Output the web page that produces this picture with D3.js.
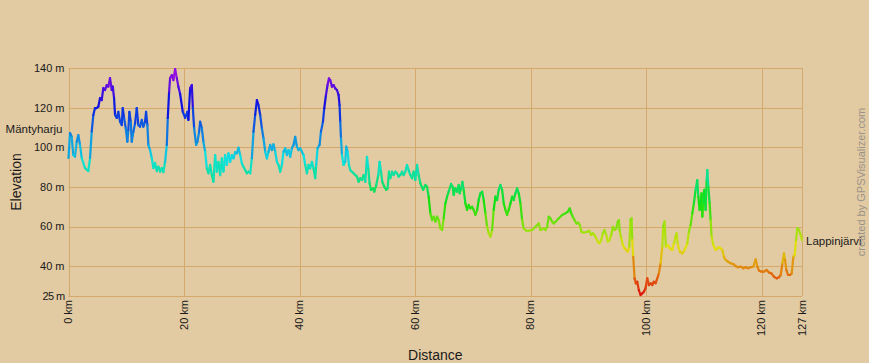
<!DOCTYPE html>
<html>
<head>
<meta charset="utf-8">
<script src="https://cdn.jsdelivr.net/npm/d3@7"></script>
<style>
  body { margin: 0; background: #e2caa2; }
  svg { display: block; font-family: "Liberation Sans", Arial, sans-serif; }
</style>
</head>
<body>
<div class="chart"></div>
<script>
var width = 869;
var height = 363;
var margin = { top: 68, right: 67, bottom: 67, left: 68.5 };

// profile: distance (km) and elevation (m)
var distKm = [
  0.0, 0.26, 0.55, 0.83, 1.13, 1.42, 1.70, 1.99, 2.29, 2.86, 3.43, 3.73, 4.02, 4.30, 4.59, 4.89, 5.16, 5.46, 5.75, 6.03,
  6.33, 6.62, 6.90, 7.19, 7.49, 7.66, 7.89, 8.06, 8.35, 8.63, 8.93, 9.22, 9.39, 9.62, 9.91, 10.19, 10.36, 10.54, 10.78, 10.95,
  11.23, 11.53, 11.82, 12.10, 12.39, 12.69, 12.96, 13.26, 13.43, 13.66, 13.83, 14.12, 14.42, 14.70, 14.99, 15.29, 15.56, 15.86, 16.15, 16.43,
  16.72, 17.02, 17.19, 17.42, 17.59, 17.89, 18.16, 18.46, 18.75, 19.03, 19.32, 19.79, 20.19, 20.59, 20.76, 21.06, 21.35, 21.53, 21.75, 22.10,
  22.32, 22.62, 22.79, 23.08, 23.36, 23.66, 23.95, 24.23, 24.52, 24.82, 25.10, 25.39, 25.68, 25.96, 26.26, 26.55, 26.83, 27.12, 27.42, 27.69,
  27.99, 28.28, 28.56, 28.86, 29.15, 29.43, 29.72, 30.02, 30.29, 30.59, 30.88, 31.16, 31.46, 31.75, 32.03, 32.32, 32.62, 32.89, 33.19, 33.48,
  33.76, 34.06, 34.35, 34.63, 34.92, 35.22, 35.49, 35.79, 36.08, 36.36, 36.66, 36.95, 37.23, 37.52, 37.82, 38.09, 38.39, 38.68, 38.96, 39.25,
  39.55, 39.83, 40.12, 40.69, 40.99, 41.28, 41.56, 41.85, 42.15, 42.43, 42.72, 42.89, 43.12, 43.47, 43.71, 44.06, 44.28, 44.58, 44.85, 45.10,
  45.32, 45.62, 45.89, 46.19, 46.48, 46.76, 46.93, 47.05, 47.18, 47.35, 47.63, 47.92, 48.09, 48.32, 48.56, 48.79, 49.08, 49.36, 49.65, 49.95,
  50.23, 50.52, 50.81, 51.09, 51.39, 51.68, 51.91, 52.13, 52.37, 52.72, 52.95, 53.29, 53.64, 53.86, 54.11, 54.33, 54.68, 55.03, 55.25, 55.49,
  55.72, 56.01, 56.29, 56.59, 56.88, 57.16, 57.45, 57.75, 58.02, 58.32, 58.61, 58.89, 59.19, 59.48, 59.76, 60.05, 60.35, 60.62, 60.92, 61.39,
  61.79, 62.08, 62.36, 62.65, 62.95, 63.22, 63.52, 63.81, 64.09, 64.38, 64.68, 64.96, 65.25, 65.55, 65.82, 66.24, 66.52, 66.69, 66.98, 67.28,
  67.56, 67.73, 67.97, 68.20, 68.42, 68.72, 69.01, 69.29, 69.58, 69.88, 70.16, 70.45, 70.75, 71.02, 71.32, 71.61, 71.89, 72.18, 72.48, 72.76,
  73.05, 73.34, 73.62, 73.92, 74.21, 74.49, 74.78, 75.08, 75.36, 75.65, 75.94, 76.22, 76.52, 76.81, 77.09, 77.38, 77.68, 77.96, 78.25, 78.54,
  78.82, 79.29, 79.69, 80.28, 80.85, 81.42, 81.72, 82.29, 82.58, 82.88, 83.15, 83.45, 83.74, 84.02, 84.32, 84.89, 85.48, 86.05, 86.45, 86.79,
  87.04, 87.31, 87.61, 87.95, 88.25, 88.53, 88.82, 89.22, 89.81, 90.16, 90.50, 90.78, 91.07, 91.37, 91.65, 91.94, 92.24, 92.51, 92.81, 93.10,
  93.38, 93.67, 93.97, 94.25, 94.54, 94.84, 95.11, 95.29, 95.46, 95.70, 95.98, 96.27, 96.57, 96.85, 97.09, 97.31, 97.49, 97.61, 97.78, 98.01,
  98.23, 98.47, 98.75, 99.05, 99.34, 99.62, 99.91, 100.21, 100.49, 100.78, 101.07, 101.35, 101.65, 101.94, 102.22, 102.51, 102.81, 102.98, 103.21, 103.43,
  103.78, 104.13, 104.54, 104.82, 105.11, 105.29, 105.51, 105.86, 106.28, 106.67, 107.14, 107.42, 107.71, 108.01, 108.28, 108.58, 108.87, 109.05, 109.27, 109.45,
  109.62, 109.74, 109.91, 110.09, 110.31, 110.49, 110.61, 110.78, 111.01, 111.18, 111.35, 111.65, 112.05, 112.34, 112.62, 112.91, 113.21, 113.48, 113.78, 114.18,
  114.64, 115.11, 115.51, 115.91, 116.38, 116.85, 117.24, 117.64, 118.11, 118.58, 118.98, 119.27, 119.55, 119.97, 120.42, 120.88, 121.28, 121.70, 122.15, 122.62,
  123.02, 123.31, 123.61, 123.88, 124.06, 124.30, 124.58, 124.92, 125.22, 125.51, 125.74, 125.96, 126.21, 126.48, 126.77, 127.0
];
var elevM = [
  94.6, 107.2, 105.3, 96.1, 95.3, 102.8, 106.2, 101.2, 94.6, 89.5, 88.0, 94.6, 107.9, 116.3, 119.8, 119.8, 120.5, 124.8, 123.8, 129.9,
  128.9, 131.4, 130.6, 134.9, 128.9, 130.6, 124.8, 116.3, 114.8, 117.9, 112.9, 111.2, 119.8, 114.8, 109.7, 102.8, 108.7, 117.9, 112.9, 102.8,
  107.9, 112.1, 119.8, 111.2, 110.4, 113.8, 110.4, 112.9, 117.9, 111.2, 101.2, 98.6, 94.6, 89.5, 92.1, 88.0, 90.2, 87.7, 89.5, 87.5,
  92.7, 101.2, 114.8, 128.0, 134.9, 136.4, 133.9, 139.5, 134.9, 130.6, 127.0, 117.9, 114.8, 117.9, 113.8, 129.9, 131.4, 119.8, 109.7, 101.2,
  102.8, 107.9, 112.9, 109.7, 102.8, 97.8, 89.4, 86.9, 91.1, 86.0, 82.6, 96.1, 87.7, 92.7, 86.0, 94.4, 87.7, 96.1, 91.1, 97.0,
  92.7, 96.1, 94.4, 97.5, 97.0, 99.8, 96.1, 91.9, 90.2, 88.5, 86.9, 87.7, 86.9, 94.4, 107.9, 116.3, 123.8, 121.3, 116.3, 109.6,
  104.5, 97.8, 94.4, 97.8, 101.2, 98.6, 101.5, 97.8, 92.7, 91.1, 87.7, 91.1, 97.8, 99.5, 96.1, 98.6, 95.2, 99.5, 101.2, 105.3,
  100.3, 98.6, 99.5, 96.1, 91.1, 86.9, 91.1, 89.4, 92.7, 89.4, 84.4, 91.1, 99.5, 101.2, 107.9, 112.9, 119.7, 126.4, 131.4, 134.8,
  133.9, 130.6, 131.4, 129.7, 128.9, 126.4, 121.3, 112.9, 104.5, 96.1, 91.1, 92.7, 100.3, 97.8, 91.1, 88.5, 87.7, 86.9, 86.0, 85.2,
  82.6, 84.4, 83.5, 86.0, 82.6, 95.2, 89.4, 81.8, 78.5, 79.3, 77.6, 81.0, 86.0, 92.7, 87.7, 82.6, 80.1, 78.5, 79.3, 87.7,
  84.4, 87.7, 86.0, 87.7, 86.9, 85.2, 86.0, 87.7, 86.0, 87.7, 91.1, 88.5, 86.0, 84.4, 87.7, 83.5, 91.1, 86.0, 81.8, 78.5,
  81.0, 80.1, 75.1, 66.7, 63.3, 65.0, 62.5, 65.0, 63.3, 59.1, 58.3, 64.2, 71.7, 75.1, 77.6, 81.5, 80.1, 76.0, 79.3, 77.6,
  81.0, 76.8, 79.3, 82.6, 78.5, 71.7, 68.4, 70.9, 69.2, 70.0, 68.4, 65.9, 68.4, 73.4, 76.8, 77.6, 73.4, 66.7, 59.9, 56.6,
  54.9, 58.3, 68.4, 75.1, 73.4, 78.5, 81.0, 78.5, 71.7, 68.4, 65.9, 68.4, 71.7, 75.1, 73.4, 76.8, 79.3, 76.8, 71.7, 63.3,
  59.1, 57.9, 57.9, 58.3, 59.9, 61.6, 58.3, 59.1, 58.3, 59.9, 65.0, 64.2, 62.5, 61.6, 62.5, 64.2, 65.9, 66.7, 67.5, 69.2,
  66.7, 65.0, 63.3, 61.6, 62.0, 60.8, 57.4, 56.9, 57.4, 57.9, 55.8, 56.6, 55.8, 54.1, 52.4, 51.6, 53.2, 56.6, 58.3, 55.8,
  52.4, 53.2, 55.8, 59.9, 58.3, 59.1, 62.5, 63.3, 57.4, 54.1, 50.7, 49.0, 48.2, 47.3, 49.9, 63.3, 64.2, 53.2, 44.8, 33.9,
  31.4, 32.2, 28.0, 25.5, 26.3, 27.2, 28.9, 33.9, 30.5, 31.4, 30.5, 32.2, 31.4, 33.9, 36.4, 41.5, 49.9, 59.9, 62.5, 49.9,
  50.7, 49.0, 48.2, 51.6, 54.9, 56.6, 50.7, 47.3, 46.5, 48.2, 51.6, 57.4, 60.8, 66.7, 71.7, 78.5, 83.5, 75.1, 68.4, 71.7,
  76.8, 65.0, 71.7, 78.5, 68.4, 83.5, 88.5, 80.1, 71.7, 63.3, 54.9, 50.7, 48.2, 49.0, 49.6, 49.0, 48.2, 44.8, 43.2, 42.3,
  41.5, 41.1, 40.1, 39.5, 39.8, 39.0, 39.5, 39.0, 39.5, 39.8, 43.5, 39.8, 37.8, 37.3, 37.3, 38.1, 36.8, 36.4, 34.7, 33.9,
  34.4, 35.6, 41.5, 46.5, 43.2, 38.1, 35.6, 35.6, 36.4, 44.8, 45.7, 53.2, 59.1, 58.3, 55.8, 53.2
];

var xTicks = [0, 20, 40, 60, 80, 100, 120, 127];
var yTicks = [25, 40, 60, 80, 100, 120, 140];
var startName = "Mäntyharju";
var endName = "Lappinjärvi";

var points = distKm.map(function (d, i) { return { km: d, m: elevM[i] }; });

var svg = d3.select(".chart").append("svg")
    .attr("width", width)
    .attr("height", height);

svg.append("rect").attr("width", width).attr("height", height).attr("fill", "#e2caa2");

var x = d3.scaleLinear().domain([0, 127]).range([margin.left, width - margin.right]);
var y = d3.scaleLinear().domain([25, 140]).range([height - margin.bottom, margin.top]);

// elevation -> rainbow hue, red low, violet high
var hue = d3.scaleLinear()
    .domain([25, 60, 80, 100, 120, 140])
    .range([0, 85, 145, 195, 235, 285]);
var colorOf = function (m) { return d3.hsl(hue(m), 0.88, 0.47).toString(); };

var gridColor = "#d5a96c";

// grid
svg.append("g").selectAll("line.h")
    .data(yTicks)
  .enter().append("line")
    .attr("x1", x(0)).attr("x2", x(127))
    .attr("y1", function (d) { return Math.round(y(d)) + 0.5; })
    .attr("y2", function (d) { return Math.round(y(d)) + 0.5; })
    .attr("stroke", gridColor).attr("stroke-width", 1);

svg.append("g").selectAll("line.v")
    .data(xTicks)
  .enter().append("line")
    .attr("y1", y(140)).attr("y2", y(25))
    .attr("x1", function (d) { return Math.round(x(d)) + 0.5; })
    .attr("x2", function (d) { return Math.round(x(d)) + 0.5; })
    .attr("stroke", gridColor).attr("stroke-width", 1);

// axis labels
svg.append("g").selectAll("text")
    .data(yTicks)
  .enter().append("text")
    .attr("x", margin.left - 4)
    .attr("y", function (d) { return y(d); })
    .attr("dy", "0.35em")
    .attr("text-anchor", "end")
    .attr("font-size", 11)
    .attr("fill", "#1a1a1a")
    .attr("letter-spacing", function (d) { return d === 25 ? -0.6 : 0; })
    .text(function (d) { return d + " m"; });

svg.append("g").selectAll("text")
    .data(xTicks)
  .enter().append("text")
    .attr("transform", function (d) { return "translate(" + x(d) + "," + (y(25) + 4) + ") rotate(-90)"; })
    .attr("dy", "0.35em")
    .attr("text-anchor", "end")
    .attr("font-size", 11)
    .attr("fill", "#1a1a1a")
    .text(function (d) { return d + " km"; });

svg.append("text")
    .attr("transform", "translate(21," + (margin.top + (height - margin.bottom - margin.top) / 2) + ") rotate(-90)")
    .attr("text-anchor", "middle")
    .attr("font-size", 14)
    .attr("fill", "#1a1a1a")
    .text("Elevation");

svg.append("text")
    .attr("x", (x(0) + x(127)) / 2)
    .attr("y", 360)
    .attr("text-anchor", "middle")
    .attr("font-size", 14)
    .attr("fill", "#1a1a1a")
    .text("Distance");

// profile line, one segment per pair so each gets its own colour
var segs = d3.pairs(points);
svg.append("g").selectAll("line")
    .data(segs)
  .enter().append("line")
    .attr("x1", function (d) { return x(d[0].km); })
    .attr("y1", function (d) { return y(d[0].m); })
    .attr("x2", function (d) { return x(d[1].km); })
    .attr("y2", function (d) { return y(d[1].m); })
    .attr("stroke", function (d) { return colorOf((d[0].m + d[1].m) / 2); })
    .attr("stroke-width", 2.2)
    .attr("stroke-linecap", "round");

// waypoint names
svg.append("text")
    .attr("x", margin.left - 6)
    .attr("y", 129)
    .attr("dy", "0.35em")
    .attr("text-anchor", "end")
    .attr("font-size", 11.5)
    .attr("fill", "#1a1a1a")
    .text(startName);

svg.append("text")
    .attr("x", x(127) + 4)
    .attr("y", 241)
    .attr("dy", "0.35em")
    .attr("font-size", 11.5)
    .attr("fill", "#1a1a1a")
    .text(endName);

svg.append("text")
    .attr("transform", "translate(865,182) rotate(-90)")
    .attr("text-anchor", "middle")
    .attr("font-size", 11)
    .attr("fill", "#9b9388")
    .text("created by GPSVisualizer.com");
</script>
</body>
</html>
